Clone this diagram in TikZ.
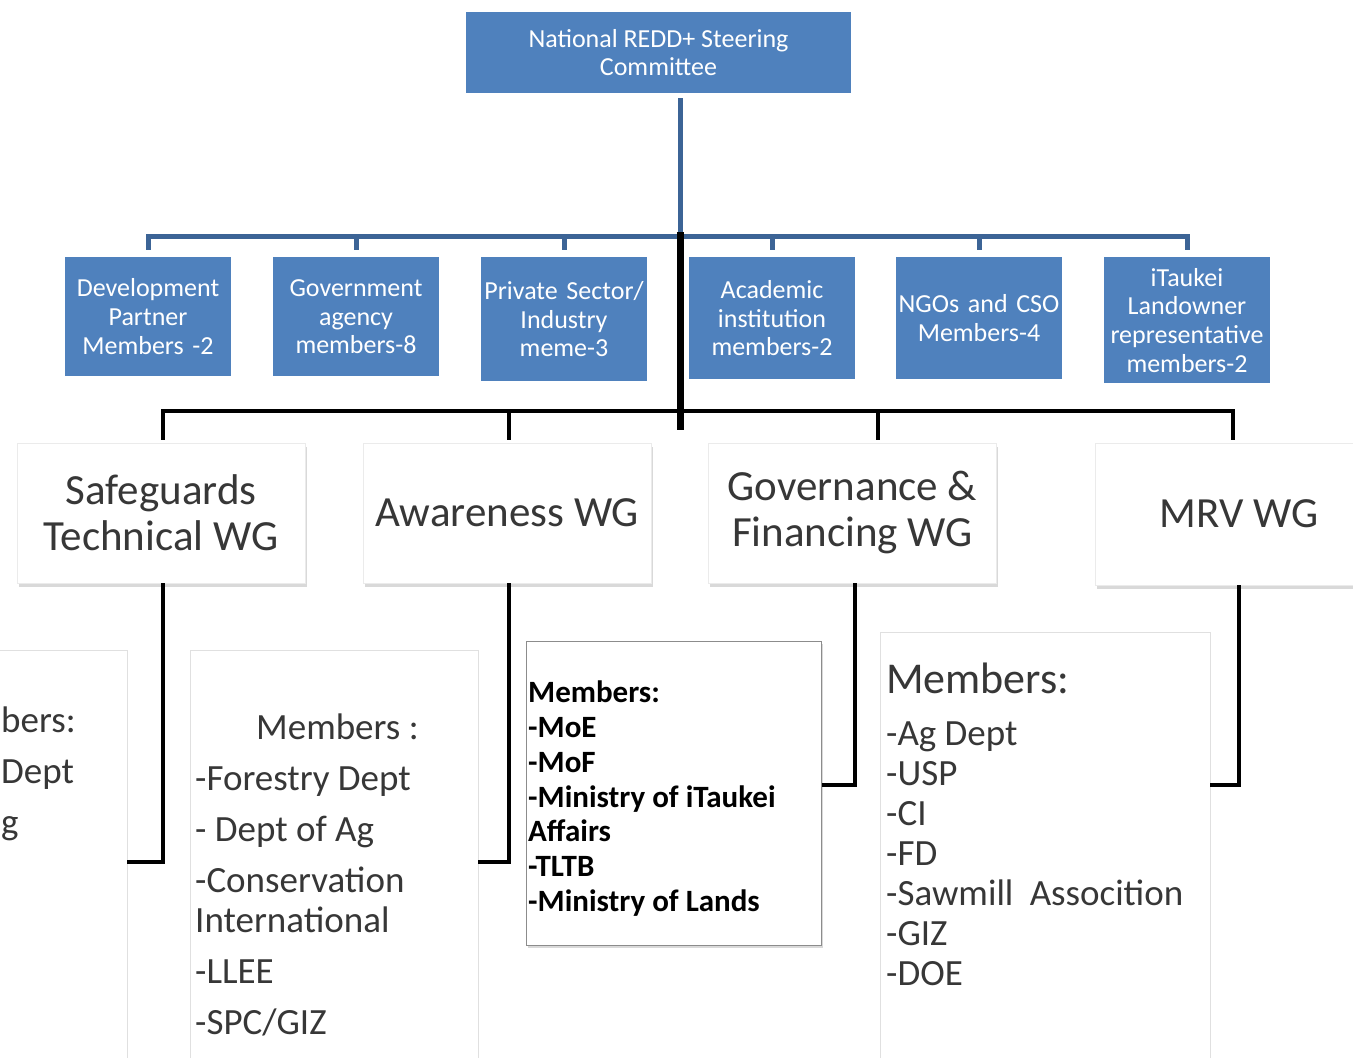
\documentclass[tikz,border=0pt]{standalone}
\usepackage{fontspec}
\setmainfont{Carlito}
\usetikzlibrary{shadows}
\definecolor{reddblue}{RGB}{79,129,189}
\definecolor{linkblue}{RGB}{60,100,150}
\definecolor{wgtext}{RGB}{55,55,55}

\begin{document}
\begin{tikzpicture}[x=1pt,y=-1pt,
    bluebox/.style={fill=reddblue,text=white,inner sep=2pt,align=center,anchor=north,
        font=\fontsize{26}{28.7}\selectfont},
    wgbox/.style={fill=white,draw=black!8,text=wgtext,minimum width=288pt,minimum height=140pt,
        align=center,font=\fontsize{43}{46}\selectfont,
        drop shadow={opacity=0.3,shadow xshift=1.5pt,shadow yshift=-4pt}},
    membox/.style={fill=white,draw=black!12,inner sep=0pt,anchor=north west},
    listtext/.style={inner sep=0pt,align=left,text=wgtext},
    blueline/.style={draw=linkblue,line width=5pt},
    blackline/.style={draw=black,line width=4.5pt}]
    \useasboundingbox (0,0) rectangle (1353,1058);
    \clip (0,0) rectangle (1353,1058);
    % committee and its members
    \node[bluebox,minimum width=385pt,minimum height=81pt] (steer) at (658.5,12) {National REDD+ Steering\\Committee};
    \node[bluebox,text width=162pt,minimum height=119pt] (dp) at (148,257) {Development\\Partner\\Members -2};
    \node[bluebox,text width=162pt,minimum height=119pt] (ga) at (356,257) {Government\\agency\\members-8};
    \node[bluebox,text width=162pt,minimum height=124pt] (ps) at (564,257) {Private Sector/\\Industry\\meme-3};
    \node[bluebox,text width=162pt,minimum height=122pt] (ai) at (772,257) {Academic\\institution\\members-2};
    \node[bluebox,text width=162pt,minimum height=122pt] (ngo) at (979,257) {NGOs and CSO\\Members-4};
    \node[bluebox,text width=162pt,minimum height=126pt] (itl) at (1187,257) {iTaukei\\Landowner\\representative\\members-2};
    \coordinate (bus) at (680,236);
    \draw[blueline,shorten <=5pt] (bus |- steer.south) -- (bus);
    \draw[blueline,shorten >=7pt] (bus) -| (dp.north);
    \draw[blueline,shorten >=7pt] (bus) -| (ga.north);
    \draw[blueline,shorten >=7pt] (bus) -| (ps.north);
    \draw[blueline,shorten >=7pt] (bus) -| (ai.north);
    \draw[blueline,shorten >=7pt] (bus) -| (ngo.north);
    \draw[blueline,shorten >=7pt] (bus) -| (itl.north);
    % working groups
    \node[wgbox] (sg) at (161,513) {Safeguards\\Technical WG};
    \node[wgbox] (aw) at (507,513) {Awareness WG};
    \node[wgbox] (gf) at (852.5,513) {Governance \&\\Financing WG};
    \node[wgbox,minimum height=142pt] (mrv) at (1239,514) {MRV WG};
    \coordinate (trunktop) at (680.5,232);
    \coordinate (wgbus) at (680.5,411);
    \coordinate (trunkend) at (680.5,430);
    \draw[black,line width=7pt] (trunktop) -- (trunkend);
    \draw[blackline,shorten >=3pt] (wgbus) -| ([xshift=2pt]sg.north);
    \draw[blackline,shorten >=3pt] (wgbus) -| ([xshift=2pt]aw.north);
    \draw[blackline,shorten >=3pt] (wgbus) -| ([xshift=25.5pt]gf.north);
    \draw[blackline,shorten >=3pt] (wgbus) -| ([xshift=-6pt]mrv.north);
    % member lists
    \node[membox,minimum width=167pt,minimum height=440pt] (m1) at (-40,650) {};
    \node[membox,minimum width=288pt,minimum height=430pt] (m2) at (190,650) {};
    \node[membox,draw=black!45,line width=0.8pt,minimum width=295pt,minimum height=304pt,
        drop shadow={opacity=0.3,shadow xshift=1.5pt,shadow yshift=-3pt}] (m3) at (526,641) {};
    \node[membox,minimum width=330pt,minimum height=440pt] (m4) at (880,632) {};
    \node[listtext,anchor=base west,font=\fontsize{37}{40}\selectfont] (m1a) at (1,732) {bers:};
    \node[listtext,anchor=base west,font=\fontsize{37}{40}\selectfont] (m1b) at (1,783) {Dept};
    \node[listtext,anchor=base west,font=\fontsize{37}{40}\selectfont] (m1c) at (1,834) {g};
    \node[listtext,anchor=north west,font=\fontsize{37}{40}\selectfont] (m2txt) at (195,714)
        {\hspace*{61pt}Members :\\[11pt]-Forestry Dept\\[11pt]- Dept of Ag\\[11pt]-Conservation\\International\\[11pt]-LLEE\\[11pt]-SPC/GIZ};
    \node[listtext,anchor=north west,text=black,font=\bfseries\fontsize{31}{34.7}\selectfont] (m3txt) at (528,681)
        {Members:\\-MoE\\-MoF\\-Ministry of iTaukei\\Affairs\\-TLTB\\-Ministry of Lands};
    \node[listtext,anchor=north west,font=\fontsize{44}{46}\selectfont] (m4head) at (886,663) {Members:};
    \node[listtext,anchor=north west,font=\fontsize{37}{40}\selectfont] (m4txt) at (886,722)
        {-Ag Dept\\-USP\\-CI\\-FD\\-Sawmill\hspace{8pt} Assocition\\-GIZ\\-DOE};
    \draw[blackline] ([xshift=2pt]sg.south) |- ([yshift=-212pt]m1.north east);
    \draw[blackline] ([xshift=2pt]aw.south) |- ([yshift=-212pt]m2.north east);
    \draw[blackline] ([xshift=2.5pt]gf.south) |- ([yshift=-144pt]m3.north east);
    \draw[blackline] (mrv.south) |- ([yshift=-153pt]m4.north east);
\end{tikzpicture}
\end{document}
